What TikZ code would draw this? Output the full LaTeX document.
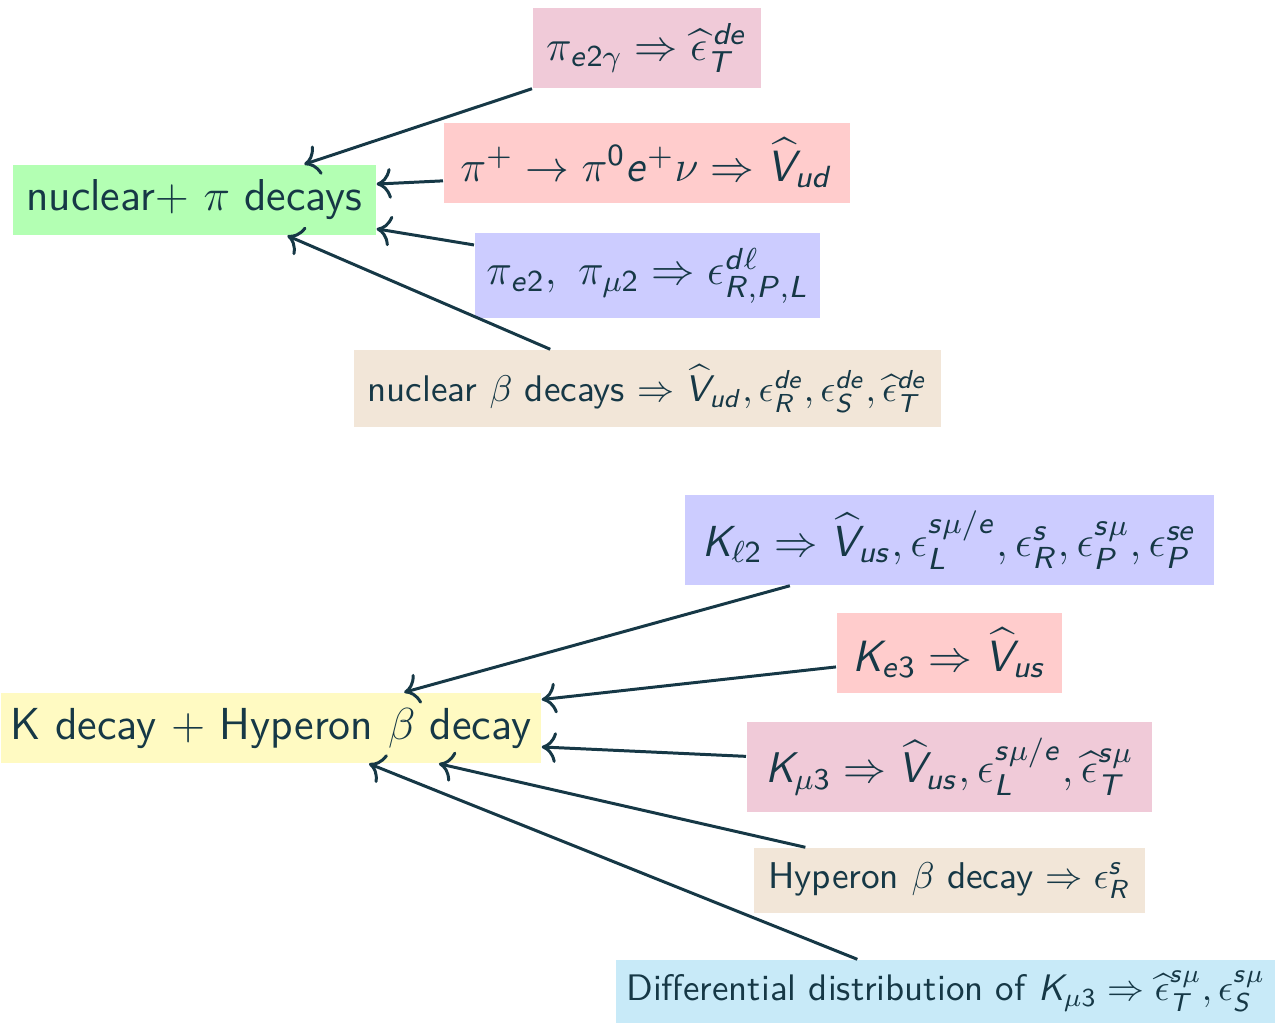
\RequirePackage{fix-cm}
\documentclass[tikz,border=0pt]{standalone}
\usepackage{amsmath,amssymb}
\usepackage{xcolor}
\usetikzlibrary{arrows,arrows.meta,positioning}
\renewcommand{\familydefault}{\sfdefault}
% sans letters and digits in math, Greek stays in cmm
\DeclareSymbolFont{sfit}{OT1}{cmss}{m}{sl}
\DeclareSymbolFont{sfup}{OT1}{cmss}{m}{n}
\newcount\lettercode
\lettercode=97
\loop
  \mathcode\lettercode=\numexpr "7000+\symsfit*256+\lettercode\relax
  \advance\lettercode by 1
\ifnum\lettercode<123 \repeat
\lettercode=65
\loop
  \mathcode\lettercode=\numexpr "7000+\symsfit*256+\lettercode\relax
  \advance\lettercode by 1
\ifnum\lettercode<91 \repeat
\lettercode=48
\loop
  \mathcode\lettercode=\numexpr "7000+\symsfup*256+\lettercode\relax
  \advance\lettercode by 1
\ifnum\lettercode<58 \repeat
\definecolor{cInk}{RGB}{22,56,70}
\definecolor{cMint}{RGB}{179,255,179}
\definecolor{cLemon}{RGB}{255,250,194}
\definecolor{cPink}{RGB}{240,202,216}
\definecolor{cRose}{RGB}{255,204,204}
\definecolor{cLav}{RGB}{204,204,255}
\definecolor{cSand}{RGB}{242,230,216}
\definecolor{cSky}{RGB}{200,234,248}
\newcommand{\fsz}[1]{\fontsize{#1}{1.2\dimexpr#1pt\relax}\selectfont}

\begin{document}
\begin{tikzpicture}[x=0.01cm,y=-0.01cm,
   b/.style={rectangle,anchor=west,text=cInk,inner sep=2pt,align=center},
   a/.style={-{To[scale=1.2]},line width=0.85pt,cInk}]
  \useasboundingbox (0,0) rectangle (1275,1023);
  % upper group
  \node[b,fill=cMint,minimum width=3.63cm,minimum height=0.70cm,font=\fsz{12.7}] (grn) at (12,200) {nuclear$+$ $\pi$ decays};
  \node[b,fill=cPink,minimum width=2.28cm,minimum height=0.80cm,font=\fsz{12.3}] (pg) at (532,48) {$\pi_{e2\gamma}\Rightarrow\widehat{\epsilon}^{\,de}_T$};
  \node[b,fill=cRose,minimum width=4.06cm,minimum height=0.80cm,font=\fsz{12.45}] (pp) at (443,163) {$\pi^+\to\pi^0e^+\nu\Rightarrow\widehat{V}_{ud}$};
  \node[b,fill=cLav,minimum width=3.45cm,minimum height=0.85cm,font=\fsz{12.35}] (pe) at (474,275.5) {$\pi_{e2},\ \pi_{\mu2}\Rightarrow\epsilon^{d\ell}_{R,P,L}$};
  \node[b,fill=cSand,minimum width=5.87cm,minimum height=0.77cm,font=\fsz{10.55}] (nb) at (353,388.5) {nuclear $\beta$ decays $\Rightarrow\widehat{V}_{ud},\epsilon^{de}_R,\epsilon^{de}_S,\widehat{\epsilon}^{de}_T$};
  \draw[a] (pg.south west) -- (grn.18);
  \draw[a] (pp.185) -- (grn.5);
  \draw[a] (pe.170) -- (grn.-9);
  \draw[a] (nb.158) -- (grn.-21);
  % lower group
  \node[b,fill=cLemon,minimum width=5.40cm,minimum height=0.70cm,font=\fsz{12.75}] (yel) at (0,728) {K decay $+$ Hyperon $\beta$ decay};
  \node[b,fill=cLav,minimum width=5.29cm,minimum height=0.90cm,font=\fsz{12.35}] (kl) at (684,540) {$K_{\ell2}\Rightarrow\widehat{V}_{us},\epsilon^{s\mu/e}_L,\epsilon^{s}_R,\epsilon^{s\mu}_P,\epsilon^{se}_P$};
  \node[b,fill=cRose,minimum width=2.25cm,minimum height=0.80cm,font=\fsz{12.45}] (ke) at (836,653) {$K_{e3}\Rightarrow\widehat{V}_{us}$};
  \node[b,fill=cPink,minimum width=4.05cm,minimum height=0.90cm,font=\fsz{12.2}] (km) at (746,767) {$K_{\mu3}\Rightarrow\widehat{V}_{us},\epsilon^{s\mu/e}_L,\widehat{\epsilon}^{s\mu}_T$};
  \node[b,fill=cSand,minimum width=3.91cm,minimum height=0.65cm,font=\fsz{10.6}] (hy) at (753,880.5) {Hyperon $\beta$ decay $\Rightarrow\epsilon^s_R$};
  \node[b,fill=cSky,minimum width=6.60cm,minimum height=0.63cm,font=\fsz{10.5}] (dd) at (615,991.5) {Differential distribution of $K_{\mu3}\Rightarrow\widehat{\epsilon}^{s\mu}_T,\epsilon^{s\mu}_S$};
  \draw[a] (kl.196) -- (yel.15);
  \draw[a] (ke.187) -- (yel.6);
  \draw[a] (km.177) -- (yel.-4);
  \draw[a] (hy.167) -- (yel.-12);
  \draw[a] (dd.160) -- (yel.-20);
\end{tikzpicture}
\end{document}
